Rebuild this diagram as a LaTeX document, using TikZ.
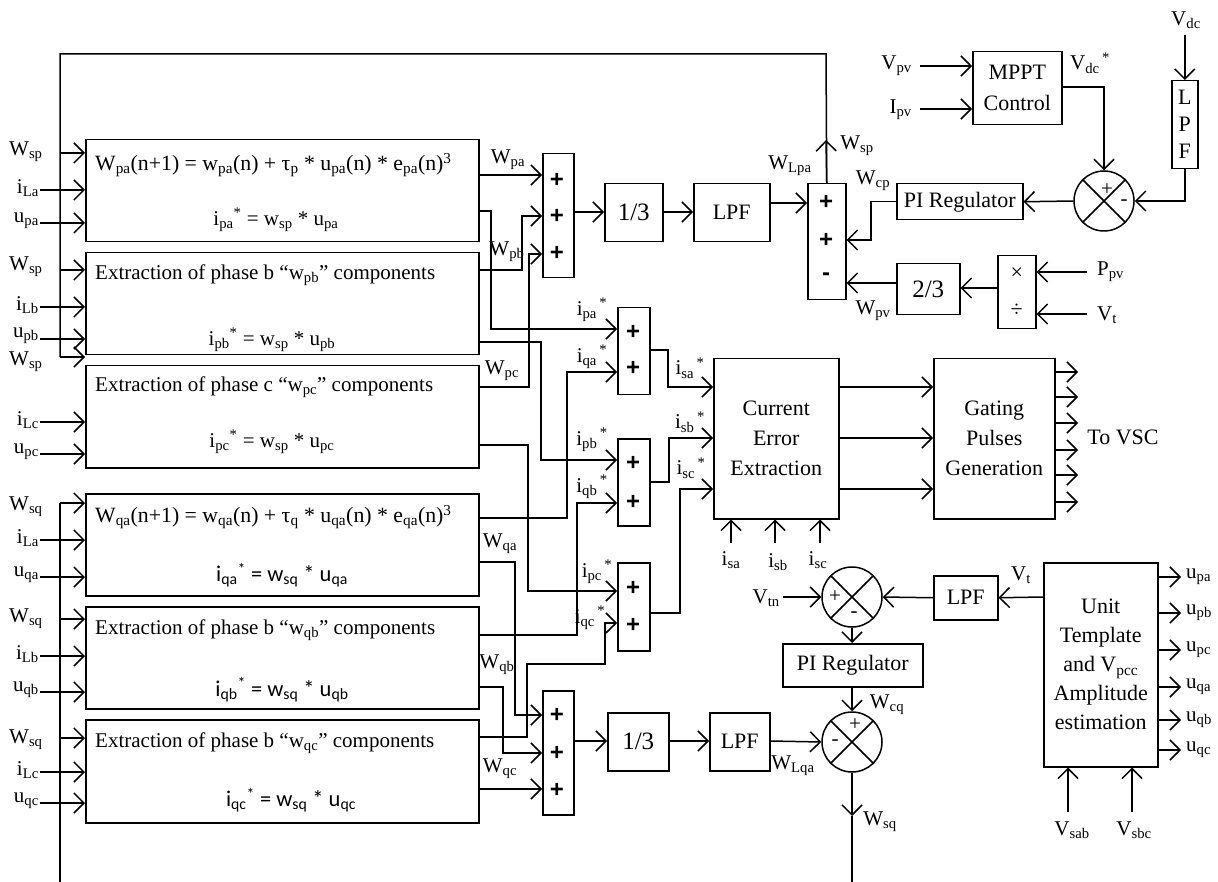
\documentclass[tikz,border=0pt]{standalone}
\usepackage{fontspec}
\setmainfont{Liberation Serif}
\setsansfont{Liberation Sans}
\newfontfamily\calib{Carlito}
\usetikzlibrary{arrows.meta,calc}
\newcommand\subx[1]{\textsubscript{#1}}
\newcommand\supx[1]{\textsuperscript{#1}}
\begin{document}
\begin{tikzpicture}[x=1pt,y=-1pt,
  lin/.style={line width=1.5pt},
  arr/.style={line width=1.5pt,-{Straight Barb[length=10pt,width=20pt]}},
  blk/.style={draw,line width=1.5pt,inner sep=0pt,anchor=north west,font=\fontsize{22}{29}\selectfont,align=center},
  txt/.style={inner sep=0pt,font=\fontsize{21}{24}\selectfont},
  big/.style={font=\fontsize{25}{28}\selectfont},
  pls/.style={inner sep=0pt,font=\sffamily\bfseries\fontsize{24}{28}\selectfont},
  sj/.style={draw,circle,line width=1.5pt,minimum size=60pt,inner sep=0pt},
]
\useasboundingbox (0,0) rectangle (1218,882);

% ---------- blocks ----------
\node[blk,minimum width=393pt,minimum height=102pt] (bpa) at (85,139) {};
\node[blk,minimum width=393pt,minimum height=102pt] (bpb) at (85,252) {};
\node[blk,minimum width=393pt,minimum height=102pt] (bpc) at (85,365) {};
\node[blk,minimum width=393pt,minimum height=102pt] (bqa) at (85,493) {};
\node[blk,minimum width=393pt,minimum height=102pt] (bqb) at (85,606) {};
\node[blk,minimum width=393pt,minimum height=103pt] (bqc) at (85,719) {};

\node[blk,minimum width=31pt,minimum height=124pt] (sumP1) at (542,153) {};
\node[blk,minimum width=58pt,minimum height=58pt,big] (th1) at (604,183) {1/3};
\node[blk,minimum width=76pt,minimum height=58pt] (lpf1) at (693,183) {LPF};
\node[blk,minimum width=38pt,minimum height=116pt] (sumP2) at (807,183) {};
\node[blk,minimum width=126pt,minimum height=36pt] (pi1) at (896,183) {PI Regulator};
\node[blk,minimum width=89pt,minimum height=73pt,font=\fontsize{22}{31}\selectfont] (mppt) at (972,51) {MPPT\\Control};
\node[blk,minimum width=26pt,minimum height=88pt,font=\fontsize{22}{27}\selectfont] (lpfv) at (1171,80) {L\\P\\F};
\node[blk,minimum width=63pt,minimum height=51pt,big] (th2) at (896,263) {2/3};
\node[blk,minimum width=38pt,minimum height=73pt,font=\fontsize{22}{37}\selectfont] (md) at (997,255) {×\\÷};

\node[blk,minimum width=32pt,minimum height=87pt] (adA) at (617,307) {};
\node[blk,minimum width=32pt,minimum height=87pt] (adB) at (617,438) {};
\node[blk,minimum width=32pt,minimum height=88pt] (adC) at (617,562) {};
\node[blk,minimum width=125pt,minimum height=160pt,font=\fontsize{22}{30}\selectfont] (cee) at (713,358) {Current\\Error\\Extraction};
\node[blk,minimum width=121pt,minimum height=160pt,font=\fontsize{22}{30}\selectfont] (gpg) at (933,358) {Gating\\Pulses\\Generation};

\node[blk,minimum width=31pt,minimum height=124pt] (sumQ) at (542,690) {};
\node[blk,minimum width=61pt,minimum height=58pt,big] (th3) at (607,712) {1/3};
\node[blk,minimum width=60pt,minimum height=58pt] (lpf2) at (709,712) {LPF};
\node[blk,minimum width=140pt,minimum height=43pt] (pi2) at (782,643) {PI Regulator};
\node[blk,minimum width=64pt,minimum height=44pt] (lpf3) at (933,575) {LPF};
\node[blk,minimum width=114pt,minimum height=204pt,font=\fontsize{22}{29}\selectfont] (ut) at (1043,562) {Unit\\Template\\and V\subx{pcc}\\Amplitude\\estimation};

\node[sj] (c1) at (1104,201) {};
\node[sj] (c2) at (852,597) {};
\node[sj] (c3) at (852,742) {};
\foreach \c in {c1,c2,c3}{
  \draw[lin] (\c.north west) -- (\c.south east);
  \draw[lin] (\c.north east) -- (\c.south west);
}
\node[txt] (c1p) at (1107,190) {+};
\node[txt] (c1m) at (1124,203) {-};
\node[txt] (c2p) at (835,597) {+};
\node[txt] (c2m) at (854,615) {-};
\node[txt] (c3p) at (855,725) {+};
\node[txt] (c3m) at (835,743) {-};

% ---------- block texts ----------
\node[txt,anchor=west,font=\fontsize{21.8}{24}\selectfont] (tpa1) at (95,165) {W\subx{pa}(n+1) = w\subx{pa}(n) + τ\subx{p} * u\subx{pa}(n) * e\subx{pa}(n)\supx{3}};
\node[txt] (tpa2) at (276,220) {i\subx{pa}\supx{*} = w\subx{sp} * u\subx{pa}};
\node[txt,anchor=west] (tpb1) at (95,275) {Extraction of phase b “w\subx{pb}” components};
\node[txt] (tpb2) at (272,340) {i\subx{pb}\supx{*} = w\subx{sp} * u\subx{pb}};
\node[txt,anchor=west] (tpc1) at (95,387) {Extraction of phase c “w\subx{pc}” components};
\node[txt] (tpc2) at (272,442) {i\subx{pc}\supx{*} = w\subx{sp} * u\subx{pc}};
\node[txt,anchor=west,font=\fontsize{21.8}{24}\selectfont] (tqa1) at (95,517) {W\subx{qa}(n+1) = w\subx{qa}(n) + τ\subx{q} * u\subx{qa}(n) * e\subx{qa}(n)\supx{3}};
\node[txt,font=\calib\fontsize{22.5}{24}\selectfont] (tqa2) at (282,575) {i\subx{qa}\supx{*} = w\subx{sq} * u\subx{qa}};
\node[txt,anchor=west] (tqb1) at (95,630) {Extraction of phase b “w\subx{qb}” components};
\node[txt,font=\calib\fontsize{22.5}{24}\selectfont] (tqb2) at (282,690) {i\subx{qb}\supx{*} = w\subx{sq} * u\subx{qb}};
\node[txt,anchor=west] (tqc1) at (95,743) {Extraction of phase b “w\subx{qc}” components};
\node[txt,font=\calib\fontsize{22.5}{24}\selectfont] (tqc2) at (291,800) {i\subx{qc}\supx{*} = w\subx{sq} * u\subx{qc}};

% plus signs
\foreach \n/\x/\y/\s in {p1a/557/180/+,p1b/557/216/+,p1c/557/253/+,
  p2a/826/202/+,p2b/826/240/+,p2c/826/277/-,
  aa1/633/332/+,aa2/633/368/+,ab1/633/463/+,ab2/633/502/+,ac1/633/588/+,ac2/633/625/+,
  q1/557/715/+,q2/557/753/+,q3/557/790/+}
  \node[pls] (\n) at (\x,\y) {\s};

% ---------- left buses ----------
\coordinate (busTop) at (60,54);
\coordinate (busPend) at (60,357);
\coordinate (busQtop) at (60,503);
\coordinate (busQend) at (60,882);
\draw[arr] (sumP2.north) -- (826,140);
\draw[lin] (sumP2.north) -- (826,54) -- (busTop) -- (busPend);
\draw[arr] (60,153) -- (bpa.west |- 0,153);
\draw[arr] (60,270) -- (bpb.west |- 0,270);
\draw[arr] (busPend) -- (bpc.west |- 0,357);
\draw[lin] (busQtop) -- (busQend);
\draw[arr] (busQtop) -- (bqa.west |- 0,503);
\draw[arr] (60,619) -- (bqb.west |- 0,619);
\draw[arr] (60,738) -- (bqc.west |- 0,738);

% left labels and inputs
\foreach \n/\y/\t in {la1/152/W\subx{sp},la2/267/W\subx{sp},la3/362/W\subx{sp},
  lq1/507/W\subx{sq},lq2/619/W\subx{sq},lq3/740/W\subx{sq}}
  \node[txt,anchor=west] (\n) at (9,\y) {\t};
\foreach \n/\y/\t/\b in {ia/190/i\subx{La}/bpa,ua/223/u\subx{pa}/bpa,
  ib/307/i\subx{Lb}/bpb,ub/339/u\subx{pb}/bpb,
  ic/422/i\subx{Lc}/bpc,uc/454/u\subx{pc}/bpc,
  iqa/540/i\subx{La}/bqa,uqa/577/u\subx{qa}/bqa,
  iqb/656/i\subx{Lb}/bqb,uqb/692/u\subx{qb}/bqb,
  iqc/772/i\subx{Lc}/bqc,uqc/803/u\subx{qc}/bqc}{
  \draw[arr] (40,\y) -- (\b.west |- 0,\y);
}
\foreach \n/\y/\t in {ia/188/i\subx{La},ua/221/u\subx{pa},
  ib/305/i\subx{Lb},ub/336/u\subx{pb},
  ic/420/i\subx{Lc},uc/452/u\subx{pc},
  iqa/538/i\subx{La},uqa/575/u\subx{qa},
  iqb/654/i\subx{Lb},uqb/690/u\subx{qb},
  iqc/770/i\subx{Lc},uqc/801/u\subx{qc}}
  \node[txt,anchor=east] (\n) at (39,\y) {\t};

% ---------- p-side connections ----------
\draw[arr] (bpa.east |- 0,175) -- (sumP1.west |- 0,175);
\draw[arr] (bpb.east |- 0,270) -| (522,216) -- (sumP1.west |- 0,216);
\draw[arr] (bpc.east |- 0,387) -| (529,254) -- (sumP1.west |- 0,254);
\draw[arr] (bpa.east |- 0,211) -| (491,329) -- (adA.west |- 0,329);
\draw[arr] (bpb.east |- 0,342) -| (541,460) -- (adB.west |- 0,460);
\draw[arr] (bpc.east |- 0,445) -| (528,591) -- (adC.west |- 0,591);
\draw[arr] (sumP1.east |- 0,212) -- (th1.west |- 0,212);
\draw[arr] (th1.east |- 0,212) -- (lpf1.west |- 0,212);
\draw[arr] (lpf1.east |- 0,203) -- (sumP2.west |- 0,203);
\draw[arr] (pi1.west) -| (871,240) -- (sumP2.east |- 0,240);
\draw[arr] (th2.west |- 0,283) -- (sumP2.east |- 0,283);
\draw[arr] (md.west |- 0,288) -- (th2.east |- 0,288);
\node[txt,anchor=west] (ppv) at (1097,272) {P\subx{pv}};
\node[txt,anchor=west] (vt1) at (1097,315) {V\subx{t}};
\draw[arr] (ppv.west |- 0,272) ++(-10,0) -- (md.east |- 0,272);
\draw[arr] (vt1.west |- 0,314) ++(-10,0) -- (md.east |- 0,314);
\draw[arr] (c1.west) -- (pi1.east);
\draw[arr] (mppt.east |- 0,87) -| (c1.north);
\draw[arr] (lpfv.south) |- (c1.east);
\node[txt] (vdc) at (1186,20) {V\subx{dc}};
\draw[arr] (lpfv.north |- 0,35) -- (lpfv.north);
\node[txt,anchor=east] (vpv) at (912,66) {V\subx{pv}};
\node[txt,anchor=east] (ipv) at (912,110) {I\subx{pv}};
\draw[arr] (vpv.east |- 0,66) ++(8,0) -- (mppt.west |- 0,66);
\draw[arr] (ipv.east |- 0,109) ++(8,0) -- (mppt.west |- 0,109);

% ---------- q-side connections ----------
\draw[arr] (bqa.east |- 0,518) -| (567,372) -- (adA.west |- 0,372);
\draw[arr] (bqb.east |- 0,635) -| (577,503) -- (adB.west |- 0,503);
\draw[arr] (bqc.east |- 0,737) -| (527,664) -| (605,623) -- (adC.west |- 0,623);
\draw[arr] (bqa.east |- 0,562) -| (515,715) -- (sumQ.west |- 0,715);
\draw[arr] (bqb.east |- 0,687) -| (503,753) -- (sumQ.west |- 0,753);
\draw[arr] (bqc.east |- 0,789) -- (sumQ.west |- 0,789);
\draw[arr] (sumQ.east |- 0,741) -- (th3.west |- 0,741);
\draw[arr] (th3.east |- 0,741) -- (lpf2.west |- 0,741);
\draw[arr] (lpf2.east |- 0,741) -- (c3.west);
\draw[arr] (c2.south) -- (pi2.north -| c2.south);
\draw[arr] (pi2.south -| c3.north) -- (c3.north);
\draw[arr] (c3.south) -- (852,816);
\coordinate (wsqEnd) at (852,882);
\draw[lin] (852,816) -- (wsqEnd);

% adders to current error extraction
\draw[arr] (adA.east |- 0,350) -| (668,387) -- (cee.west |- 0,387);
\draw[arr] (adB.east |- 0,482) -| (669,438) -- (cee.west |- 0,438);
\draw[arr] (adC.east |- 0,613) -| (680,489) -- (cee.west |- 0,489);
\foreach \y in {387,438,489}
  \draw[arr] (cee.east |- 0,\y) -- (gpg.west |- 0,\y);
\foreach \y in {372,397,423,450,475,502}
  \draw[arr] (gpg.east |- 0,\y) -- (1078,\y);
\node[txt,font=\fontsize{22}{24}\selectfont] (vsc) at (1123,437) {To VSC};

% sensed currents
\node[txt] (isa) at (731,560) {i\subx{sa}};
\node[txt] (isb) at (778,562) {i\subx{sb}};
\node[txt] (isc) at (818,560) {i\subx{sc}};
\draw[arr] (731,543) -- (cee.south -| 731,0);
\draw[arr] (775,543) -- (cee.south -| 775,0);
\draw[arr] (820,543) -- (cee.south -| 820,0);

% voltage loop
\node[txt,anchor=east] (vtn) at (780,598) {V\subx{tn}};
\draw[arr] (vtn.east |- 0,597) ++(3,0) -- (c2.west);
\draw[arr] (lpf3.west) -- (c2.east);
\draw[arr] (ut.west |- 0,597) -- (lpf3.east);
\node[txt] (vt2) at (1021,575) {V\subx{t}};

% unit template outputs
\foreach \n/\y/\t in {o1/577/u\subx{pa},o2/613/u\subx{pb},o3/650/u\subx{pc},o4/687/u\subx{qa},o5/720/u\subx{qb},o6/750/u\subx{qc}}{
  \node[txt,anchor=west] (\n) at (1186,\y) {\t};
  \draw[arr] (ut.east |- 0,\y) -- (1181,\y);
}
\node[txt] (vsab) at (1072,830) {V\subx{sab}};
\node[txt] (vsbc) at (1134,830) {V\subx{sbc}};
\draw[arr] (1068,812) -- (ut.south -| 1068,0);
\draw[arr] (1132,812) -- (ut.south -| 1132,0);

% ---------- signal labels ----------
\node[txt] (lwpa) at (508,160) {W\subx{pa}};
\node[txt] (lwpb) at (507,252) {W\subx{pb}};
\node[txt] (lwpc) at (502,371) {W\subx{pc}};
\node[txt] (lwqa) at (500,544) {W\subx{qa}};
\node[txt] (lwqb) at (497,665) {W\subx{qb}};
\node[txt] (lwqc) at (500,769) {W\subx{qc}};
\node[txt] (lipa) at (592,310) {i\subx{pa}\supx{\,*}};
\node[txt] (liqa) at (592,357) {i\subx{qa}\supx{\,*}};
\node[txt] (lipb) at (592,440) {i\subx{pb}\supx{\,*}};
\node[txt] (liqb) at (592,487) {i\subx{qb}\supx{\,*}};
\node[txt] (lipc) at (597,572) {i\subx{pc}\supx{\,*}};
\node[txt] (liqc) at (590,618) {i\subx{qc}\supx{\,*}};
\node[txt] (lisa) at (690,368) {i\subx{sa}\supx{\,*}};
\node[txt] (lisb) at (690,422) {i\subx{sb}\supx{\,*}};
\node[txt] (lisc) at (691,468) {i\subx{sc}\supx{\,*}};
\node[txt] (lwlpa) at (790,166) {W\subx{Lpa}};
\node[txt] (lwsp) at (857,146) {W\subx{sp}};
\node[txt] (lwcp) at (873,181) {W\subx{cp}};
\node[txt] (lwpv) at (873,311) {W\subx{pv}};
\node[txt] (lvdcs) at (1090,63) {V\subx{dc}\supx{\,*}};
\node[txt] (lwcq) at (887,705) {W\subx{cq}};
\node[txt] (lwlqa) at (793,766) {W\subx{Lqa}};
\node[txt] (lwsq) at (880,822) {W\subx{sq}};
\end{tikzpicture}
\end{document}
